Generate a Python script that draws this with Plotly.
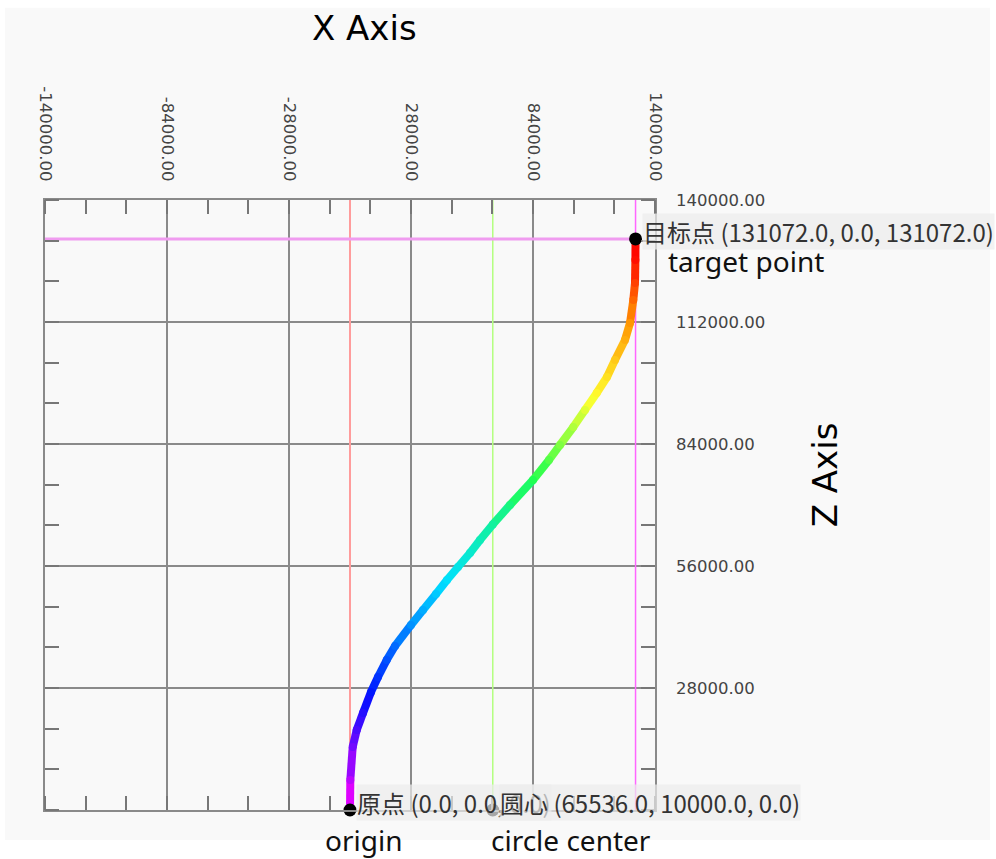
import plotly.graph_objects as go
from plotly.colors import sample_colorscale

# path (x, z)
curve_x = [0, 140, 1240, 3075, 5970, 9640, 12850, 16850, 20660, 28000, 33510, 39475,
           44525, 49575, 55080, 59670, 65536, 73440, 84000, 91345, 96390, 102500, 107870,
           113240, 117970, 121640, 126230, 128530, 130040, 130820, 131000, 131072]
curve_z = [0, 6885, 14460, 18360, 22260, 27080, 30525, 34430, 37640, 42460, 45900, 49575,
           52790, 55770, 58985, 61970, 65536, 70000, 75740, 80330, 83770, 87900, 91800,
           95700, 99380, 103280, 107870, 111770, 117050, 120950, 126230, 131072]

origin = (0.0, 0.0)
center = (65536.0, 0.0)
target = (131072.0, 131072.0)

x_range = [-140000, 140000]
z_range = [0, 140000]
x_ticks = [-140000, -84000, -28000, 28000, 84000, 140000]
x_tick_labels = ['-140000.00', '-84000.00', '-28000.00', '28000.00', '84000.00', '140000.00']
z_ticks = [28000, 56000, 84000, 112000, 140000]
z_tick_labels = ['28000.00', '56000.00', '84000.00', '112000.00', '140000.00']

rainbow = [[0.0, '#ff00ff'], [0.2, '#0010ff'], [0.4, '#00e0ff'], [0.58, '#20ff50'],
           [0.72, '#ffff30'], [0.86, '#ff9000'], [0.96, '#ff1000'], [1.0, '#ff0000']]

fig = go.Figure()

# light panel behind everything
fig.add_shape(type='rect', xref='paper', yref='paper', x0=-0.0656, x1=1.549, y0=-0.049, y1=1.315,
              fillcolor='#f9f9f9', line_width=0, layer='below')

# guide lines
fig.add_trace(go.Scatter(x=[origin[0], origin[0]], y=z_range, mode='lines',
                         line=dict(color='#ff9c9c', width=2), hoverinfo='skip'))
fig.add_trace(go.Scatter(x=[center[0], center[0]], y=z_range, mode='lines',
                         line=dict(color='#b4ff80', width=1.5), hoverinfo='skip'))
fig.add_trace(go.Scatter(x=[target[0], target[0]], y=z_range, mode='lines',
                         line=dict(color='#ff66ff', width=1.5), hoverinfo='skip'))
fig.add_trace(go.Scatter(x=[x_range[0], target[0]], y=[target[1], target[1]], mode='lines',
                         line=dict(color='#f09cf0', width=3), hoverinfo='skip'))

# rainbow path, one segment per pair of points
fr = [z / target[1] for z in curve_z]
cols = sample_colorscale(rainbow, fr)
for i in range(len(curve_x) - 1):
    c = sample_colorscale(rainbow, [(fr[i] + fr[i + 1]) / 2])[0]
    fig.add_trace(go.Scatter(x=curve_x[i:i + 2], y=curve_z[i:i + 2], mode='lines',
                             line=dict(color=c, width=8), hoverinfo='skip'))
fig.add_trace(go.Scatter(x=curve_x, y=curve_z, mode='markers',
                         marker=dict(color=cols, size=8, line_width=0), hoverinfo='skip'))

# key points
fig.add_trace(go.Scatter(x=[origin[0], center[0], target[0]], y=[origin[1], center[1], target[1]],
                         mode='markers', marker=dict(color='black', size=13), cliponaxis=False))

lab_font = dict(family='Noto Sans CJK SC', size=24, color='#333333')
big_font = dict(family='Noto Sans', size=28, color='#111111')
box = 'rgba(236,236,236,0.7)'
fig.add_annotation(x=target[0], y=target[1], text='目标点 (131072.0, 0.0, 131072.0)',
                   xanchor='left', yanchor='middle', xshift=6, yshift=7, showarrow=False,
                   font=lab_font, bgcolor=box, borderpad=0)
fig.add_annotation(x=target[0], y=target[1], text='target point', xanchor='left', yanchor='middle',
                   xshift=30, yshift=-22, showarrow=False, font=big_font)
fig.add_annotation(x=origin[0], y=origin[1], text='原点 (0.0, 0.0, 0.0)', xanchor='left',
                   yanchor='middle', xshift=6, yshift=8, showarrow=False, font=lab_font,
                   bgcolor=box, borderpad=0)
fig.add_annotation(x=center[0], y=center[1], text='圆心 (65536.0, 10000.0, 0.0)', xanchor='left',
                   yanchor='middle', xshift=6, yshift=8, showarrow=False, font=lab_font,
                   bgcolor=box, borderpad=0)
fig.add_annotation(x=origin[0], y=origin[1], text='origin', xanchor='left', yanchor='middle',
                   xshift=-27, yshift=-30, showarrow=False, font=big_font)
fig.add_annotation(x=center[0], y=center[1], text='circle center', xanchor='left', yanchor='middle',
                   xshift=-4, yshift=-30, showarrow=False, font=big_font)

# axis titles
fig.add_annotation(xref='paper', yref='paper', x=0.524, y=1.282, xanchor='center', yanchor='middle',
                   text='X Axis', showarrow=False,
                   font=dict(family='DejaVu Sans', size=34, color='black'))
fig.add_annotation(xref='paper', yref='paper', x=1.279, y=0.549, xanchor='center', yanchor='middle',
                   text='Z Axis', textangle=-90, showarrow=False,
                   font=dict(family='DejaVu Sans', size=34, color='black'))

axis_common = dict(showgrid=True, gridcolor='#8a8a8a', gridwidth=1.5, zeroline=False,
                   showline=True, linecolor='#8a8a8a', linewidth=1.5, mirror='allticks',
                   ticks='', tickfont=dict(family='DejaVu Sans', size=16.5, color='#444444'))
fig.update_xaxes(range=x_range, side='top', tickmode='array', tickvals=x_ticks,
                 ticktext=x_tick_labels, tickangle=90, ticklabelstandoff=11,
                 minor=dict(tick0=-140000, dtick=56000 / 3, ticks='inside', ticklen=14,
                            tickcolor='#777777', tickwidth=1.5, showgrid=False),
                 **axis_common)
fig.update_yaxes(range=z_range, side='right', tickmode='array', tickvals=z_ticks,
                 ticktext=z_tick_labels, ticklabelstandoff=16,
                 minor=dict(tick0=0, dtick=28000 / 3, ticks='inside', ticklen=14,
                            tickcolor='#777777', tickwidth=1.5, showgrid=False),
                 **axis_common)

fig.update_layout(width=996, height=859, margin=dict(l=45, r=341, t=200, b=49),
                  paper_bgcolor='white', plot_bgcolor='rgba(0,0,0,0)', showlegend=False,
                  font=dict(family='DejaVu Sans'))

fig.write_html("out.html", config={'displayModeBar': False},
               post_script="document.body.style.margin='0';")
